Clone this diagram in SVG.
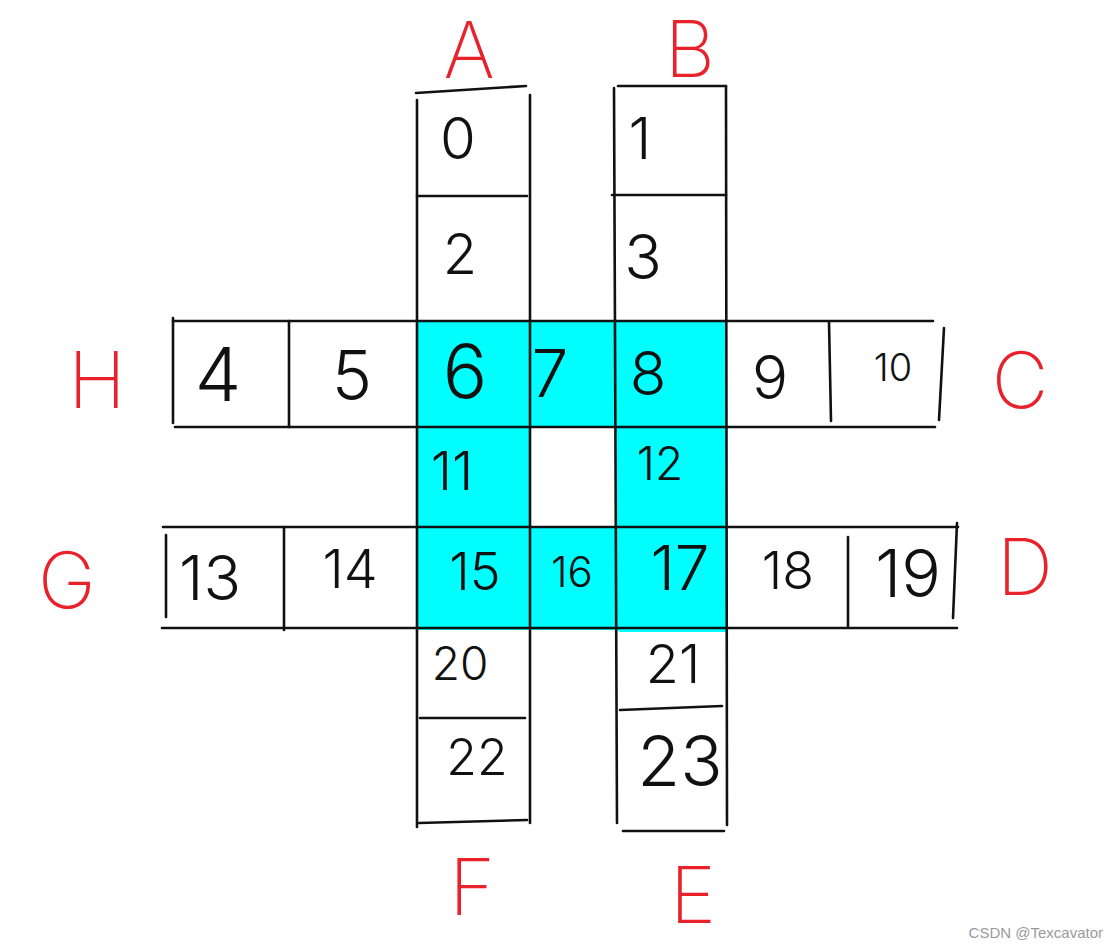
<svg xmlns="http://www.w3.org/2000/svg" width="1119" height="949" viewBox="0 0 1119 949">
<style>
.ln{stroke:#111;stroke-width:2.6;stroke-linecap:round;fill:none}
.d{font-family:Inter,"Liberation Sans",sans-serif;font-weight:300;fill:#111;text-anchor:middle;dominant-baseline:central}
.lbl{font-family:Inter,"Liberation Sans",sans-serif;font-weight:200;fill:#e8212b;text-anchor:middle;font-size:78px}
.wm{font-family:"Liberation Sans",sans-serif;font-size:15px;fill:#9a9a9a;text-anchor:end}
</style>
<rect width="1119" height="949" fill="#fff"/>
<g id="highlight">
<path fill="#00ffff" d="M417 320 H727 V632 H620 L617 630 H417 Z M529 427 V527 H615 V427 Z" fill-rule="evenodd"/>
</g>
<g id="connectors">
<line class="ln" x1="416" y1="93" x2="526" y2="86"/>
<line class="ln" x1="417" y1="100" x2="417" y2="827"/>
<line class="ln" x1="530" y1="95" x2="530" y2="823"/>
<line class="ln" x1="417" y1="196" x2="527" y2="196"/>
<line class="ln" x1="420" y1="718" x2="525" y2="718"/>
<line class="ln" x1="419" y1="823" x2="527" y2="820"/>
<line class="ln" x1="618" y1="86" x2="726" y2="86"/>
<line class="ln" x1="614" y1="88" x2="617" y2="823"/>
<line class="ln" x1="726" y1="86" x2="727" y2="825"/>
<line class="ln" x1="612" y1="195" x2="726" y2="195"/>
<line class="ln" x1="620" y1="710" x2="722" y2="706"/>
<line class="ln" x1="623" y1="831" x2="724" y2="831"/>
<line class="ln" x1="173" y1="321" x2="933" y2="321"/>
<line class="ln" x1="175" y1="427" x2="935" y2="427"/>
<line class="ln" x1="173" y1="318" x2="173" y2="423"/>
<line class="ln" x1="289" y1="321" x2="289" y2="427"/>
<line class="ln" x1="829" y1="322" x2="831" y2="421"/>
<line class="ln" x1="944" y1="328" x2="939" y2="420"/>
<line class="ln" x1="163" y1="527" x2="958" y2="527"/>
<line class="ln" x1="162" y1="628" x2="957" y2="628"/>
<line class="ln" x1="166" y1="535" x2="166" y2="617"/>
<line class="ln" x1="284" y1="527" x2="284" y2="630"/>
<line class="ln" x1="848" y1="537" x2="848" y2="627"/>
<line class="ln" x1="957" y1="523" x2="953" y2="618"/>
</g>
<g id="cell0"><text class="d" x="458" y="138" font-size="58">0</text></g>
<g id="cell1"><text class="d" x="640" y="138" font-size="58">1</text></g>
<g id="cell2"><text class="d" x="460" y="254" font-size="56">2</text></g>
<g id="cell3"><text class="d" x="643" y="256" font-size="62">3</text></g>
<g id="cell4"><text class="d" x="218" y="374" font-size="74">4</text></g>
<g id="cell5"><text class="d" x="352" y="375" font-size="68">5</text></g>
<g id="cell6"><text class="d" x="465" y="371" font-size="74">6</text></g>
<g id="cell7"><text class="d" x="550" y="373" font-size="66">7</text></g>
<g id="cell8"><text class="d" x="648" y="373" font-size="60">8</text></g>
<g id="cell9"><text class="d" x="770" y="377" font-size="60">9</text></g>
<g id="cell10"><text class="d" x="893" y="367" font-size="38">10</text></g>
<g id="cell11"><text class="d" x="452" y="470" font-size="54">11</text></g>
<g id="cell12"><text class="d" x="660" y="463" font-size="46">12</text></g>
<g id="cell13"><text class="d" x="210" y="577" font-size="62">13</text></g>
<g id="cell14"><text class="d" x="350" y="568" font-size="54">14</text></g>
<g id="cell15"><text class="d" x="475" y="571" font-size="52">15</text></g>
<g id="cell16"><text class="d" x="572" y="571" font-size="42">16</text></g>
<g id="cell17"><text class="d" x="680" y="567" font-size="62">17</text></g>
<g id="cell18"><text class="d" x="788" y="570" font-size="52">18</text></g>
<g id="cell19"><text class="d" x="908" y="573" font-size="66">19</text></g>
<g id="cell20"><text class="d" x="460" y="663" font-size="46">20</text></g>
<g id="cell21"><text class="d" x="673" y="663" font-size="54">21</text></g>
<g id="cell22"><text class="d" x="477" y="757" font-size="50">22</text></g>
<g id="cell23"><text class="d" x="680" y="760" font-size="70">23</text></g>
<g id="labelA"><text class="lbl" x="469" y="78">A</text></g>
<g id="labelB"><text class="lbl" x="690" y="77">B</text></g>
<g id="labelC"><text class="lbl" x="1020" y="408">C</text></g>
<g id="labelD"><text class="lbl" x="1025" y="595">D</text></g>
<g id="labelE"><text class="lbl" x="693" y="923">E</text></g>
<g id="labelF"><text class="lbl" x="472" y="915">F</text></g>
<g id="labelG"><text class="lbl" x="67" y="608">G</text></g>
<g id="labelH"><text class="lbl" x="97" y="408">H</text></g>
<text class="wm" x="1103" y="938">CSDN @Texcavator</text>
</svg>
